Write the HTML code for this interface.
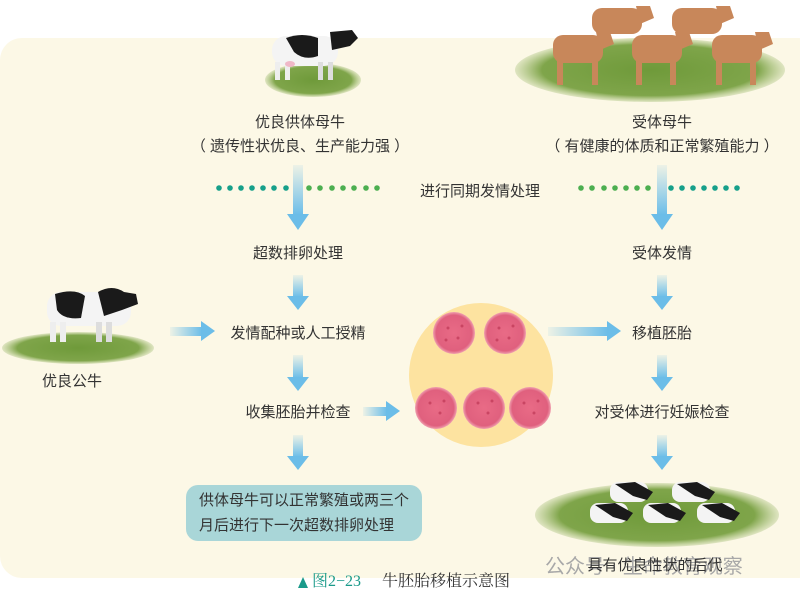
<!DOCTYPE html>
<html><head><meta charset="utf-8"><style>
html,body{margin:0;padding:0;background:#fff;}
svg{display:block;}
text{font-family:"Liberation Sans","Noto Sans CJK SC",sans-serif;fill:#333;}
</style></head><body>
<svg width="800" height="596" viewBox="0 0 800 596" xmlns="http://www.w3.org/2000/svg">
<defs>
<linearGradient id="gv" x1="0" y1="0" x2="0" y2="1"><stop offset="0" stop-color="#6bbde8" stop-opacity="0.1"/><stop offset="1" stop-color="#6bbde8"/></linearGradient>
<linearGradient id="gh" x1="0" y1="0" x2="1" y2="0"><stop offset="0" stop-color="#6bbde8" stop-opacity="0.1"/><stop offset="1" stop-color="#6bbde8"/></linearGradient>
<radialGradient id="gr" cx="0.5" cy="0.5" r="0.5"><stop offset="0" stop-color="#6f9a3a"/><stop offset="0.8" stop-color="#7fa54a"/><stop offset="1" stop-color="#9bb86a" stop-opacity="0.3"/></radialGradient>
<radialGradient id="em" cx="0.5" cy="0.5" r="0.5"><stop offset="0" stop-color="#e96b86"/><stop offset="0.85" stop-color="#e0607e"/><stop offset="1" stop-color="#f0a0b0"/></radialGradient>
</defs>
<rect x="0" y="38" width="820" height="540" rx="22" fill="#fcf8e6"/>

<!-- top donor cow -->
<ellipse cx="313" cy="80" rx="48" ry="17" fill="url(#gr)"/>
<g>
<rect x="272" y="36" width="66" height="30" rx="14" fill="#f4f4f4"/>
<path d="M286 38 q16 -6 32 0 l0 18 q-14 5 -24 -4z" fill="#1a1a1a"/>
<path d="M330 32 l22 -2 l6 8 l-8 8 l-18 4z" fill="#1a1a1a"/>
<rect x="275" y="62" width="5" height="18" fill="#eee"/><rect x="285" y="62" width="5" height="18" fill="#eee"/>
<rect x="318" y="62" width="5" height="18" fill="#ddd"/><rect x="328" y="62" width="5" height="18" fill="#ddd"/>
<ellipse cx="290" cy="64" rx="5" ry="3" fill="#f0b8c8"/>
</g>

<!-- top right herd -->
<ellipse cx="650" cy="70" rx="135" ry="32" fill="url(#gr)"/>
<g fill="#c8875a">
<rect x="592" y="8" width="50" height="26" rx="10"/><path d="M636 6 l14 0 l4 12 l-14 6z"/>
<rect x="672" y="8" width="50" height="26" rx="10"/><path d="M716 6 l14 0 l4 12 l-14 6z"/>
<rect x="553" y="35" width="50" height="28" rx="10"/><path d="M596 32 l14 0 l4 12 l-14 6z"/>
<rect x="632" y="35" width="50" height="28" rx="10"/><path d="M675 32 l14 0 l4 12 l-14 6z"/>
<rect x="712" y="35" width="50" height="28" rx="10"/><path d="M755 32 l14 0 l4 12 l-14 6z"/>
<rect x="557" y="60" width="6" height="25"/><rect x="592" y="60" width="6" height="25"/>
<rect x="636" y="60" width="6" height="25"/><rect x="670" y="60" width="6" height="25"/>
<rect x="716" y="60" width="6" height="25"/><rect x="750" y="60" width="6" height="25"/>
</g>

<!-- left bull -->
<ellipse cx="78" cy="348" rx="76" ry="16" fill="url(#gr)"/>
<rect x="47" y="292" width="84" height="34" rx="14" fill="#f4f4f4"/>
<path d="M55 294 q20 -6 30 2 l-4 22 q-18 2 -24 -8z" fill="#1a1a1a"/>
<path d="M98 292 q14 -8 26 0 l12 2 l2 10 l-16 6 l-18 6z" fill="#1a1a1a"/>
<rect x="50" y="322" width="6" height="20" fill="#eee"/><rect x="60" y="322" width="6" height="20" fill="#eee"/>
<rect x="96" y="322" width="6" height="20" fill="#ddd"/><rect x="106" y="322" width="6" height="20" fill="#ddd"/>

<!-- bottom right offspring -->
<ellipse cx="657" cy="515" rx="122" ry="32" fill="url(#gr)"/>
<g>
<rect x="610" y="482" width="38" height="20" rx="8" fill="#f4f4f4"/><path d="M615 484 l20 -2 l18 10 l-6 8 l-14 -4z" fill="#1a1a1a"/>
<rect x="672" y="482" width="38" height="20" rx="8" fill="#f4f4f4"/><path d="M677 484 l20 -2 l18 10 l-6 8 l-14 -4z" fill="#1a1a1a"/>
<rect x="590" y="503" width="38" height="20" rx="8" fill="#f4f4f4"/><path d="M595 505 l20 -2 l18 10 l-6 8 l-14 -4z" fill="#1a1a1a"/>
<rect x="643" y="503" width="38" height="20" rx="8" fill="#f4f4f4"/><path d="M648 505 l20 -2 l18 10 l-6 8 l-14 -4z" fill="#1a1a1a"/>
<rect x="697" y="503" width="38" height="20" rx="8" fill="#f4f4f4"/><path d="M702 505 l20 -2 l18 10 l-6 8 l-14 -4z" fill="#1a1a1a"/>
</g>

<!-- dots -->
<g fill="#16a08a">
<circle cx="219" cy="188" r="2.8"/><circle cx="230" cy="188" r="2.8"/><circle cx="241" cy="188" r="2.8"/><circle cx="252" cy="188" r="2.8"/><circle cx="263" cy="188" r="2.8"/><circle cx="274" cy="188" r="2.8"/><circle cx="286" cy="188" r="2.8"/>
<circle cx="737" cy="188" r="2.8"/><circle cx="726" cy="188" r="2.8"/><circle cx="715" cy="188" r="2.8"/><circle cx="704" cy="188" r="2.8"/><circle cx="693" cy="188" r="2.8"/><circle cx="682" cy="188" r="2.8"/><circle cx="671" cy="188" r="2.8"/>
</g>
<g fill="#4caf50">
<circle cx="309" cy="188" r="2.8"/><circle cx="320" cy="188" r="2.8"/><circle cx="332" cy="188" r="2.8"/><circle cx="343" cy="188" r="2.8"/><circle cx="354" cy="188" r="2.8"/><circle cx="366" cy="188" r="2.8"/><circle cx="377" cy="188" r="2.8"/>
<circle cx="581" cy="188" r="2.8"/><circle cx="592" cy="188" r="2.8"/><circle cx="604" cy="188" r="2.8"/><circle cx="615" cy="188" r="2.8"/><circle cx="626" cy="188" r="2.8"/><circle cx="637" cy="188" r="2.8"/><circle cx="648" cy="188" r="2.8"/>
</g>

<!-- vertical arrows -->
<g>
<rect x="293" y="165" width="10" height="50" fill="url(#gv)"/><path d="M287 214 h22 l-11 16z" fill="#6bbde8"/>
<rect x="293" y="275" width="10" height="22" fill="url(#gv)"/><path d="M287 296 h22 l-11 14z" fill="#6bbde8"/>
<rect x="293" y="355" width="10" height="23" fill="url(#gv)"/><path d="M287 377 h22 l-11 14z" fill="#6bbde8"/>
<rect x="293" y="435" width="10" height="22" fill="url(#gv)"/><path d="M287 456 h22 l-11 14z" fill="#6bbde8"/>
<rect x="657" y="165" width="10" height="50" fill="url(#gv)"/><path d="M651 214 h22 l-11 16z" fill="#6bbde8"/>
<rect x="657" y="275" width="10" height="22" fill="url(#gv)"/><path d="M651 296 h22 l-11 14z" fill="#6bbde8"/>
<rect x="657" y="355" width="10" height="23" fill="url(#gv)"/><path d="M651 377 h22 l-11 14z" fill="#6bbde8"/>
<rect x="657" y="435" width="10" height="22" fill="url(#gv)"/><path d="M651 456 h22 l-11 14z" fill="#6bbde8"/>
</g>
<!-- horizontal arrows -->
<rect x="170" y="327" width="32" height="9" fill="url(#gh)"/><path d="M201 321 v20 l14 -10z" fill="#6bbde8"/>
<rect x="363" y="407" width="24" height="9" fill="url(#gh)"/><path d="M386 401 v20 l14 -10z" fill="#6bbde8"/>
<rect x="548" y="327" width="60" height="9" fill="url(#gh)"/><path d="M607 321 v20 l14 -10z" fill="#6bbde8"/>

<!-- embryo circle -->
<circle cx="481" cy="375" r="72" fill="#fde3a0"/>
<g fill="url(#em)">
<circle cx="454" cy="333" r="21"/><circle cx="505" cy="333" r="21"/>
<circle cx="436" cy="408" r="21"/><circle cx="484" cy="408" r="21"/><circle cx="530" cy="408" r="21"/>
</g>
<g fill="#b8304e" opacity="0.6">
<circle cx="448" cy="328" r="1.5"/><circle cx="458" cy="338" r="1.5"/><circle cx="462" cy="326" r="1.5"/><circle cx="446" cy="340" r="1.5"/>
<circle cx="499" cy="328" r="1.5"/><circle cx="509" cy="338" r="1.5"/><circle cx="513" cy="326" r="1.5"/><circle cx="497" cy="340" r="1.5"/>
<circle cx="430" cy="403" r="1.5"/><circle cx="440" cy="413" r="1.5"/><circle cx="444" cy="401" r="1.5"/>
<circle cx="478" cy="403" r="1.5"/><circle cx="488" cy="413" r="1.5"/><circle cx="492" cy="401" r="1.5"/>
<circle cx="524" cy="403" r="1.5"/><circle cx="534" cy="413" r="1.5"/><circle cx="538" cy="401" r="1.5"/>
</g>

<!-- box -->
<rect x="186" y="485" width="236" height="56" rx="12" fill="#a9d6d8"/>

<!-- texts -->
<g font-size="15" text-anchor="middle">
<text x="300" y="127">优良供体母牛</text>
<text x="300" y="151">（ 遗传性状优良、生产能力强 ）</text>
<text x="480" y="196">进行同期发情处理</text>
<text x="298" y="258">超数排卵处理</text>
<text x="298" y="338">发情配种或人工授精</text>
<text x="298" y="417">收集胚胎并检查</text>
<text x="662" y="127">受体母牛</text>
<text x="662" y="151">（ 有健康的体质和正常繁殖能力 ）</text>
<text x="662" y="258">受体发情</text>
<text x="662" y="338">移植胚胎</text>
<text x="662" y="417">对受体进行妊娠检查</text>
<text x="72" y="386">优良公牛</text>
</g>
<g font-size="15">
<text x="199" y="505">供体母牛可以正常繁殖或两三个</text>
<text x="199" y="530">月后进行下一次超数排卵处理</text>
</g>
<text x="525" y="573" font-size="20" style="fill:#a8a8a8">　公众号 · 生命教育观察</text>
<text x="655" y="570" font-size="15" text-anchor="middle">具有优良性状的后代</text>
<path d="M298 588 l5 -11 l5 11z" fill="#1a9a8a"/>
<text x="312" y="586" font-size="16" style="fill:#1a9a8a;font-family:'Liberation Serif','Noto Serif CJK SC',serif">图2−23</text>
<text x="382" y="586" font-size="16" style="font-family:'Liberation Serif','Noto Serif CJK SC',serif">牛胚胎移植示意图</text>
</svg>
</body></html>
